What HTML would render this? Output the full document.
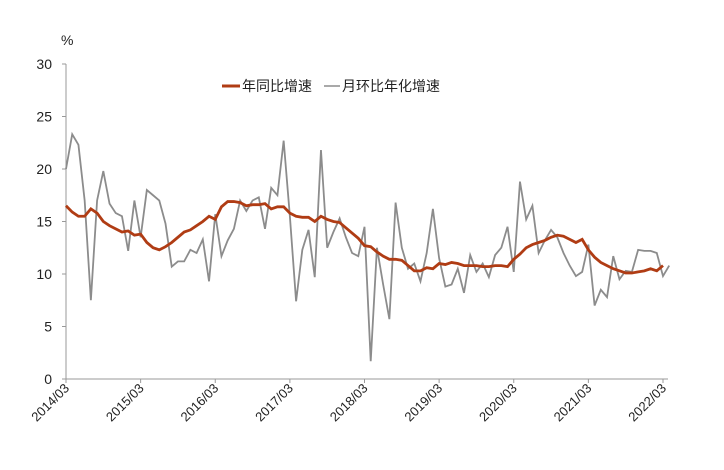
<!DOCTYPE html>
<html><head><meta charset="utf-8"><style>
body{margin:0;background:#fff;}
svg{font-family:"Liberation Sans","Noto Sans CJK SC",sans-serif;}
</style></head><body>
<svg id="chart" width="724" height="465" xmlns="http://www.w3.org/2000/svg"></svg>
<script>
const categories=[];for(let y=2014,m=3;!(y===2022&&m>3);){categories.push(y+'/'+String(m).padStart(2,'0'));m++;if(m>12){m=1;y++;}}
const yoy=[16.5,15.9,15.5,15.5,16.2,15.8,15,14.6,14.3,14,
14.1,13.7,13.8,13.0,12.5,12.3,12.6,13,13.5,14,14.2,14.6,
15,15.5,15.2,16.4,16.9,16.9,16.8,16.5,16.6,16.6,16.7,16.2,
16.4,16.4,15.8,15.5,15.4,15.4,15.0,15.5,15.2,15.0,14.9,14.4,
13.9,13.4,12.7,12.6,12.1,11.7,11.4,11.4,11.3,10.8,10.3,10.3,
10.6,10.5,11.0,10.9,11.1,11.0,10.8,10.8,10.8,10.7,10.7,10.8,
10.8,10.7,11.4,11.9,12.5,12.8,13.0,13.2,13.5,13.7,13.6,13.3,
13.0,13.3,12.3,11.6,11.1,10.8,10.5,10.3,10.1,10.1,10.2,10.3,
10.5,10.3,10.8];
const mom=[20,23.3,22.3,17,7.5,17,19.8,16.7,15.8,15.5,
12.2,17,13.5,18,17.5,17,14.8,10.7,11.2,11.2,12.3,12,
13.3,9.3,15.7,11.7,13.2,14.3,17,16,17,17.3,14.3,18.2,
17.5,22.7,15.5,7.4,12.3,14.2,9.7,21.8,12.5,14,15.3,13.5,
12,11.7,14.5,1.7,12.5,9,5.7,16.8,12.5,10.5,11,9.3,
12,16.2,11.5,8.8,9,10.5,8.2,11.8,10.2,11,9.7,11.8,
12.5,14.5,10.2,18.8,15.2,16.5,12,13.2,14.2,13.5,12,10.8,
9.8,10.2,12.8,7,8.5,7.8,11.7,9.5,10.3,10.2,12.3,12.2,
12.2,12,9.8,10.8];
const yTicks=[0,5,10,15,20,25,30];
const x0=66,x1=663,y0=379,y1=64;
const X=i=>x0+(x1-x0)*i/(categories.length-1);
const Y=v=>y0-(y0-y1)*v/30;
const svg=document.getElementById('chart');
const NS='http://www.w3.org/2000/svg';
function mk(t,a,txt){const e=document.createElementNS(NS,t);for(const k in a)e.setAttribute(k,a[k]);if(txt!=null)e.textContent=txt;svg.appendChild(e);return e;}
let e=mk('line',{x1:x0,y1:y1,x2:x0,y2:y0,stroke:'#999','stroke-width':1});


e=mk('line',{x1:x0,y1:y0,x2:668,y2:y0,stroke:'#999','stroke-width':1});


yTicks.forEach(v=>{
 let t=mk('line',{x1:x0-4,x2:x0,y1:Y(v),y2:Y(v),stroke:'#999'});
 
 
 let l=mk('text',{x:52,y:Y(v)+5,'text-anchor':'end','font-size':14,fill:'#222'},v);
 
 
});
e=mk('text',{x:61,y:45,'font-size':14,fill:'#222'},'%');


categories.forEach((c,i)=>{
 if(i%12!==0)return;
 let t=mk('line',{x1:X(i),x2:X(i),y1:y0,y2:y0+4,stroke:'#999'});
 
 
 let l=mk('text',{x:X(i)+4,y:y0+10,'text-anchor':'end','font-size':13,fill:'#222',transform:`rotate(-45 ${X(i)+4} ${y0+10})`},c);
 
 
});
e=mk('polyline',{points:mom.map((v,i)=>X(i)+','+Y(v)).join(' '),fill:'none',stroke:'#8c8c8c','stroke-width':1.8});


e=mk('polyline',{points:yoy.map((v,i)=>X(i)+','+Y(v)).join(' '),fill:'none',stroke:'#b03c14','stroke-width':2.8});


e=mk('line',{x1:222,x2:240,y1:86,y2:86,stroke:'#b03c14','stroke-width':3});


e=mk('text',{x:242,y:91,'font-size':14,fill:'#222'},'年同比增速');


e=mk('line',{x1:324,x2:340,y1:86,y2:86,stroke:'#8c8c8c','stroke-width':1.5});


e=mk('text',{x:342,y:91,'font-size':14,fill:'#222'},'月环比年化增速');


</script>
</body></html>
